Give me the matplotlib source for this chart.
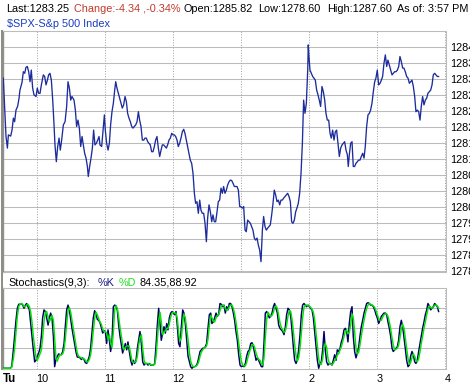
"""
Intraday $SPX chart with 9,3 stochastics panel underneath.
"""
import matplotlib
matplotlib.use("Agg")
import matplotlib.pyplot as plt
from matplotlib.lines import Line2D

plt.rcParams["font.family"] = ["Liberation Sans", "DejaVu Sans"]
FS = 7.8

# price: minutes after 9:30, index level
price_min = [
    0.7, 1.9, 3.1, 4.3, 5.2, 7.2, 8.4, 9.6, 10.7, 11.9, 13.4, 14.6, 15.4, 17.2, 18.4, 19.6,
    20.7, 21.9, 23.1, 24.3, 25.4, 26.6, 27.8, 29.6, 30.7, 31.9, 33.1, 34.3, 36.0, 37.2, 38.4,
    39.6, 40.7, 41.9, 43.1, 44.3, 45.4, 46.3, 47.5, 48.7, 49.9, 51.0, 52.2, 53.7, 55.2, 56.6,
    57.8, 59.0, 60.2, 61.3, 63.1, 64.3, 65.4, 66.6, 67.8, 69.0, 70.2, 71.3, 72.5, 73.7, 74.9,
    75.7, 76.9, 78.1, 79.3, 80.4, 81.6, 82.8, 84.0, 85.2, 86.0, 87.5, 88.7, 89.9, 90.7, 91.9,
    93.1, 94.3, 95.4, 96.6, 97.8, 99.0, 99.9, 101.0, 102.2, 103.4, 104.6, 105.7, 106.9, 108.1,
    109.3, 110.4, 111.6, 112.8, 114.0, 115.1, 116.3, 117.5, 118.7, 119.9, 121.0, 122.2, 123.4,
    124.6, 125.7, 126.9, 128.1, 129.3, 130.4, 131.6, 132.8, 134.0, 135.1, 136.3, 137.5, 138.7,
    139.9, 141.0, 142.2, 143.4, 144.6, 145.7, 146.9, 148.1, 149.3, 150.4, 151.6, 152.8, 154.0,
    155.1, 156.3, 157.5, 158.7, 159.9, 161.0, 162.2, 163.4, 164.6, 165.7, 166.9, 168.1, 169.3,
    170.4, 171.6, 172.8, 174.0, 175.1, 176.3, 177.5, 178.7, 179.9, 181.0, 182.2, 183.4, 184.6,
    185.7, 186.9, 188.1, 189.3, 190.4, 191.6, 192.8, 194.0, 195.1, 196.3, 197.5, 198.7, 199.9,
    201.0, 202.2, 203.4, 204.6, 205.7, 206.9, 208.1, 209.3,
    210.1, 211.6, 212.8, 214.0, 215.1, 216.3, 217.5, 218.7, 219.8, 221.0, 222.2, 223.4, 224.6,
    225.7, 226.9, 228.1, 229.3, 230.4, 231.6, 232.8, 234.0, 235.1, 236.3, 237.5, 238.7, 239.8,
    241.0, 242.2, 243.4, 244.6, 245.7, 246.9, 248.1, 249.3, 250.4, 251.6, 252.8, 254.0, 255.1,
    256.3, 257.5, 258.7, 259.8, 261.0, 262.2, 263.4, 264.6, 265.7, 266.9, 268.1, 269.3, 269.8,
    270.4, 271.3, 272.5, 273.7, 274.8, 276.0, 277.2, 278.4, 279.5, 280.7, 281.9, 283.1, 284.3,
    285.4, 286.6, 287.8, 289.0, 290.1, 291.3, 292.5, 293.7, 294.8, 296.0, 297.2, 298.4, 299.6,
    300.7, 301.9, 303.1, 304.3, 305.1, 306.0, 307.2, 308.4, 309.5, 310.7, 311.9, 313.1, 314.3,
    315.4, 316.6, 317.8, 319.0, 320.1, 321.3, 322.5, 323.7, 324.8, 326.0, 327.2, 328.4, 329.5,
    330.7, 331.9, 333.1, 334.3, 335.4, 336.6, 337.8, 339.0, 340.1, 341.3, 342.5, 343.7, 344.8,
    346.0, 347.2, 348.4, 349.6, 350.7, 351.9, 353.1, 354.2, 355.4, 356.6, 357.8, 359.0, 360.1,
    361.3, 362.5, 363.7, 364.8, 366.0, 367.2, 368.4, 369.5, 370.7, 371.9, 373.1, 374.3, 375.4,
    376.6, 377.8, 379.0, 380.1, 381.3, 382.5, 383.7, 384.8,
]
price = [
    1283.23, 1282.48, 1281.77, 1281.48, 1281.81, 1281.78, 1281.93, 1282.23, 1282.14, 1282.43,
    1282.53, 1282.73, 1282.93, 1283.12, 1283.39, 1283.35, 1283.50, 1283.52, 1283.39, 1283.14,
    1283.43, 1282.98, 1282.81, 1282.77, 1282.98, 1282.85, 1282.85, 1283.06, 1283.31, 1283.27,
    1283.06, 1283.18, 1283.31, 1283.35, 1283.18, 1282.68, 1282.10, 1281.56, 1281.14, 1281.52,
    1281.73, 1281.43, 1281.68, 1282.06, 1282.14, 1282.52, 1283.14, 1282.98, 1282.68, 1282.77,
    1282.68, 1282.43, 1282.02, 1282.18, 1281.98, 1281.52, 1281.77, 1281.56, 1281.35, 1281.23,
    1281.02, 1280.77, 1281.02, 1281.23, 1281.48, 1281.93, 1281.56, 1281.60, 1281.68, 1281.77,
    1281.56, 1281.52, 1281.93, 1282.31, 1281.93, 1281.60, 1281.43, 1281.60, 1282.06, 1282.39,
    1282.60, 1282.93, 1283.14, 1282.98, 1282.85, 1282.73, 1282.60, 1282.48, 1282.56, 1282.77,
    1282.64, 1282.35, 1282.23, 1282.14, 1282.02, 1281.98, 1282.02, 1282.06, 1282.14, 1282.39,
    1282.18, 1282.02, 1281.68, 1281.68, 1281.73, 1281.73, 1281.64, 1281.60, 1281.56, 1281.39,
    1281.39, 1281.52, 1281.68, 1281.77, 1281.48, 1281.27, 1281.43, 1281.56, 1281.56, 1281.52,
    1281.48, 1281.56, 1281.68, 1281.73, 1281.85, 1281.81, 1281.81, 1281.77, 1281.68, 1281.52,
    1281.60, 1281.73, 1281.89, 1281.95, 1281.85, 1281.68, 1281.52, 1281.35, 1281.18, 1281.10,
    1280.85, 1280.35, 1280.10, 1280.14, 1279.85, 1280.18, 1279.93, 1279.85, 1279.85, 1279.60,
    1279.14, 1279.73, 1280.06, 1279.89, 1279.64, 1279.81, 1279.64, 1279.64, 1279.89, 1280.14,
    1280.18, 1280.48, 1280.35, 1280.52, 1280.35, 1280.43, 1280.56, 1280.64, 1280.68, 1280.67,
    1280.60, 1280.52, 1280.52, 1280.52, 1280.43, 1280.02,
    1280.02, 1279.98, 1280.02, 1279.43, 1279.39, 1279.68, 1279.64, 1279.60, 1279.52, 1279.43,
    1279.23, 1279.18, 1279.23, 1279.06, 1278.93, 1278.64, 1279.43, 1279.77, 1279.52, 1279.43,
    1279.48, 1279.52, 1279.56, 1279.81, 1280.10, 1280.43, 1280.31, 1280.14, 1280.18, 1280.06,
    1280.18, 1280.18, 1280.23, 1280.27, 1280.31, 1280.35, 1280.27, 1280.14, 1279.64, 1279.60,
    1279.68, 1279.89, 1279.98, 1280.10, 1280.35, 1280.85, 1281.60, 1282.68, 1282.35, 1282.60,
    1283.43, 1284.06, 1283.77, 1283.43, 1283.35, 1283.27, 1283.23, 1283.18, 1282.93, 1282.81,
    1282.68, 1282.52, 1283.02, 1282.89, 1282.68, 1282.35, 1282.18, 1282.18, 1281.85, 1281.73,
    1281.93, 1281.68, 1281.89, 1281.93, 1281.60, 1281.27, 1281.48, 1281.56, 1281.60, 1281.64,
    1281.43, 1281.31, 1281.02, 1281.31, 1281.60, 1281.64, 1281.02, 1281.02, 1281.10, 1281.14,
    1281.18, 1281.18, 1281.27, 1281.35, 1281.23, 1281.52, 1282.02, 1282.31, 1282.35, 1282.43,
    1282.60, 1282.89, 1283.14, 1283.23, 1283.43, 1283.06, 1283.10, 1283.18, 1283.27, 1283.60,
    1283.81, 1283.52, 1283.68, 1283.56, 1283.43, 1283.31, 1283.35, 1283.39, 1283.39, 1283.43,
    1283.52, 1283.77, 1283.64, 1283.48, 1283.48, 1283.39, 1283.27, 1283.23, 1283.10, 1283.14,
    1283.18, 1283.02, 1282.77, 1282.39, 1282.43, 1282.39, 1282.18, 1282.52, 1282.77, 1282.56,
    1282.68, 1282.73, 1282.85, 1282.89, 1282.93, 1283.06, 1283.31, 1283.35, 1283.31, 1283.27,
    1283.27,
]

# stochastics(9,3): minutes after 9:30, %K and %D
stoch_min = [
    0.7, 6.6, 8.1,
    9.6, 10.7, 11.9, 13.1, 14.3, 15.4, 16.6, 17.8, 19.0, 20.2,
    21.3, 22.5, 23.7, 24.9, 26.0, 27.2, 28.4, 29.6, 30.7, 31.9,
    33.1, 34.3, 35.4, 36.6, 37.8, 39.0, 40.2, 41.3, 42.5, 43.7,
    44.9, 46.0, 47.2, 48.4, 49.6, 50.7, 51.9, 53.1, 54.3, 55.4,
    56.6, 57.8, 59.0, 60.2, 61.3, 62.5, 63.7, 64.9, 66.0, 67.2,
    68.4, 69.6, 70.7, 71.9, 73.1, 74.3, 75.4, 76.6, 77.8, 79.0,
    80.1, 81.3, 82.5, 83.7, 84.9, 86.0, 87.2, 88.4, 89.6, 90.7,
    91.9, 93.1, 94.3, 95.4, 96.6, 97.8, 99.0, 100.1, 101.3, 102.5,
    103.7, 104.9, 106.0, 107.2, 108.4, 109.6, 110.7, 111.9, 113.1, 114.3,
    115.4, 116.6, 117.8, 119.0, 120.1, 121.3, 122.5, 123.7, 124.9, 126.0,
    127.2, 128.4, 129.6, 130.7, 131.9, 133.1, 134.3, 135.4, 136.6, 137.8,
    139.0, 140.1, 141.3, 142.5, 143.7, 144.9, 146.0, 147.2, 148.4, 149.6,
    150.7, 151.9, 153.1, 154.3, 155.4, 156.6, 157.8, 159.0, 160.1, 161.3,
    162.5, 163.7, 164.9, 166.0, 167.2, 168.4, 169.6, 170.7, 171.9, 173.1,
    174.3, 175.4, 176.6, 177.8, 179.0, 180.1, 181.3, 182.5, 183.7, 184.8,
    186.0, 187.2, 188.4, 189.6, 190.7, 191.9, 193.1, 194.3, 195.4, 196.6,
    197.8, 199.0, 200.1, 201.3, 202.5, 203.7, 204.8, 206.0, 207.2, 208.4,
    209.6, 210.7, 211.9, 213.1, 214.3, 215.4, 216.6, 217.8, 219.0, 220.1,
    221.3, 222.5, 223.7, 224.9, 226.0, 227.2, 228.4, 229.6, 230.7, 231.9,
    233.1, 234.3, 235.4, 236.6, 237.8, 239.0, 240.1, 241.3, 242.5, 243.7,
    244.8, 246.0, 247.2, 248.4, 249.6, 250.7, 251.9, 253.1, 254.3, 255.4,
    256.6, 257.8, 259.0, 260.1, 261.3, 262.5, 263.7, 264.8, 266.0, 267.2,
    268.4, 269.6, 270.7, 271.9, 273.1, 274.3, 275.4, 276.6, 277.8, 279.0,
    280.1, 281.3, 282.5, 283.7, 284.8, 286.0, 287.2, 288.4, 289.6, 290.7,
    291.9, 293.1, 294.3, 295.4, 296.6, 297.8, 299.0, 300.1, 301.3, 302.5,
    303.7, 304.8, 306.0, 307.2, 308.4, 309.5, 310.7, 311.9, 313.1, 314.3,
    315.4, 316.6, 317.8, 319.0, 320.1, 321.3, 322.5, 323.7, 324.8, 326.0,
    327.2, 328.4, 329.6, 330.7, 331.9, 333.1, 334.3, 335.4, 336.6, 337.8,
    339.0, 340.1, 341.3, 342.5, 343.7, 344.8, 346.0, 347.2, 348.4, 349.5,
    350.7, 351.9, 353.1, 354.3, 355.4, 356.6, 357.8, 359.0, 360.1, 361.3,
    362.5, 363.7, 364.8, 366.0, 367.2, 368.4, 369.5, 370.7, 371.9, 373.1,
    374.3, 375.4, 376.6, 377.8, 379.0, 380.1, 381.3, 382.5, 383.7, 384.8,
]
pct_k = [
    0, 0, 2,
    23, 40, 60, 75, 80, 80, 81, 79, 75, 79,
    81, 77, 73, 56, 40, 23, 8, 10, 15, 19,
    25, 40, 63, 73, 71, 63, 54, 63, 69, 63,
    40, 2, 11, 15, 18, 17, 17, 21, 31, 52,
    73, 79, 73, 61, 50, 40, 30, 20, 14, 14,
    13, 11, 13, 11, 7, 6, 10, 15, 26, 45,
    63, 72, 68, 61, 60, 57, 51, 44, 47, 46,
    31, 48, 35, 21, 33, 77, 79, 78, 73, 54,
    40, 29, 19, 25, 31, 23, 33, 21, 10, 4,
    10, 6, 10, 25, 35, 46, 31, 8, 4, 6,
    6, 4, 6, 4, 4, 4, 6, 27, 54, 75,
    56, 35, 44, 52, 44, 56, 48, 63, 69, 71,
    69, 67, 71, 52, 31, 27, 52, 73, 69, 56,
    35, 15, 8, 2, 0, 2, 2, 3, 6, 13,
    21, 23, 25, 25, 27, 31, 50, 67, 69, 56,
    58, 63, 69, 65, 67, 81, 80, 77, 79, 69,
    77, 73, 81, 81, 77, 69, 60, 46, 35, 17,
    4, 2, 3, 2, 6, 15, 21, 23, 31, 32,
    27, 19, 10, 13, 10, 6, 2, 2, 31, 69,
    71, 67, 63, 65, 69, 77, 81, 75, 69, 54,
    50, 48, 46, 42, 52, 67, 75, 73, 65, 48,
    27, 10, 6, 10, 23, 42, 67, 79, 81, 79,
    77, 79, 77, 75, 73, 63, 46, 27, 10, 0,
    6, 8, 23, 46, 23, 8, 4, 6, 6, 4,
    10, 17, 10, 23, 21, 25, 33, 38, 48, 50,
    46, 33, 56, 71, 77, 40, 21, 13, 19, 27,
    40, 52, 60, 69, 75, 81, 82, 81, 79, 79,
    77, 73, 67, 63, 56, 60, 65, 67, 69, 69,
    67, 58, 50, 40, 25, 21, 23, 25, 27, 35,
    52, 60, 52, 38, 25, 10, 2, 4, 15, 21,
    17, 8, 6, 10, 21, 31, 40, 50, 58, 67,
    73, 81, 78, 73, 75, 77, 81, 79, 77, 71,
]
pct_d = [
    0, 0, 1,
    12, 25, 45, 65, 77, 80, 81, 80, 77, 77,
    79, 80, 77, 70, 58, 40, 26, 13, 10, 14,
    18, 23, 38, 58, 70, 71, 64, 58, 62, 66,
    60, 38, 12, 9, 14, 17, 17, 18, 23, 36,
    55, 72, 76, 70, 60, 49, 39, 28, 19, 15,
    14, 13, 12, 12, 10, 8, 8, 11, 17, 30,
    47, 62, 70, 67, 62, 58, 55, 49, 46, 46,
    44, 36, 42, 32, 26, 45, 74, 78, 75, 64,
    51, 40, 30, 23, 26, 28, 28, 27, 18, 9,
    7, 8, 8, 15, 28, 38, 42, 25, 10, 6,
    6, 6, 5, 5, 4, 4, 5, 13, 35, 58,
    70, 58, 42, 45, 47, 50, 50, 56, 64, 69,
    70, 69, 69, 62, 45, 34, 38, 57, 68, 63,
    50, 36, 20, 9, 4, 2, 2, 3, 4, 8,
    15, 20, 23, 25, 26, 28, 36, 53, 66, 63,
    59, 58, 63, 66, 67, 72, 78, 79, 78, 75,
    72, 74, 77, 79, 79, 75, 68, 58, 45, 31,
    19, 9, 4, 3, 3, 7, 14, 20, 25, 29,
    30, 26, 19, 14, 11, 10, 6, 4, 12, 38,
    61, 70, 67, 65, 66, 70, 76, 78, 75, 66,
    57, 51, 48, 45, 47, 54, 65, 72, 71, 62,
    47, 30, 16, 9, 13, 25, 44, 63, 76, 79,
    79, 78, 78, 76, 74, 70, 61, 45, 28, 12,
    5, 5, 12, 26, 31, 26, 12, 6, 5, 5,
    6, 10, 12, 17, 18, 23, 27, 33, 40, 46,
    48, 43, 45, 54, 68, 63, 46, 25, 18, 20,
    29, 40, 51, 60, 68, 75, 79, 81, 80, 79,
    78, 76, 72, 67, 62, 60, 60, 64, 67, 68,
    68, 65, 58, 49, 38, 29, 23, 24, 25, 29,
    38, 49, 55, 50, 38, 24, 12, 5, 7, 13,
    18, 15, 10, 8, 12, 21, 31, 40, 50, 58,
    67, 74, 78, 76, 75, 76, 79, 79, 78, 75,
]
assert len(price_min) == len(price)
assert len(stoch_min) == len(pct_k) == len(pct_d)

price_ticks = [1278.4, 1278.8, 1279.2, 1279.6, 1280.0, 1280.4, 1280.8, 1281.2,
               1281.6, 1282.0, 1282.4, 1282.8, 1283.2, 1283.6, 1284.0]
hour_min = [30, 90, 150, 210, 270, 330, 390]
hour_labels = ["10", "11", "12", "1", "2", "3", "4"]

W, H = 470, 389
GRID = "#bcbcbc"
VGRID = "#a8a8a8"
LINE = "#1c2c9c"


def fx(px):
    return px / W


def fy(py):
    return 1 - py / H


fig = plt.figure(figsize=(W / 100, H / 100), dpi=100, facecolor="white")
ax = fig.add_axes([fx(3), fy(272), fx(443), (272 - 31) / H])
ax_st = fig.add_axes([fx(3), fy(369), fx(443), (369 - 288.3) / H])

xlim = ((3 - 2.5) * 60 / 68, (446 - 2.5) * 60 / 68)

# price panel
ax.plot(price_min, price, color=LINE, lw=0.95, zorder=3)
ax.set_xlim(*xlim)
ax.set_ylim(1284 - (272 - 47.3) * 0.025, 1284 + (47.3 - 31) * 0.025)
ax.set_yticks(price_ticks)
ax.set_yticklabels([f"{v:.1f}" for v in price_ticks])
ax.yaxis.tick_right()
ax.tick_params(axis="y", length=0, pad=3, labelsize=FS, colors="black")
ax.set_xticks([])
ax.grid(axis="y", color=GRID, lw=0.75)

# stochastics panel
ax_st.plot(stoch_min, pct_k, color="#000066", lw=1.05, zorder=3)
ax_st.plot(stoch_min, pct_d, color="#00e600", lw=1.05, zorder=4)
ax_st.set_xlim(*xlim)
ax_st.set_ylim(-0.9, 100)
ax_st.set_yticks([25, 50, 75])
ax_st.tick_params(axis="y", length=0, labelright=False, labelleft=False)
ax_st.grid(axis="y", color=GRID, lw=0.75)
ax_st.set_xticks(hour_min)
ax_st.set_xticklabels(hour_labels)
ax_st.tick_params(axis="x", length=0, pad=3.5, labelsize=FS)
for lbl in ax_st.get_xticklabels():
    lbl.set_ha("left")

for a in (ax, ax_st):
    a.set_facecolor("white")
    for m in hour_min:
        a.axvline(m, color=VGRID, lw=0.75, ls=(0, (1, 1.5)), zorder=1)
    for side in ("top", "right", "bottom"):
        a.spines[side].set_color(GRID)
        a.spines[side].set_linewidth(0.75)
    a.spines["left"].set_color("#909090")
    a.spines["left"].set_linewidth(1.0)
    a.set_axisbelow(True)

fig.add_artist(Line2D([fx(1.5), fx(1.5)], [fy(31), fy(369)], color="#8c8c84",
                      lw=1.4, transform=fig.transFigure))

# header texts
hdr = [
    (6, "Last:1283.25", "black"),
    (74, "Change:-4.34 ,-0.34%", "#c0392b"),
    (184, "Open:1285.82", "black"),
    (258, "Low:1278.60", "black"),
    (327, "High:1287.60", "black"),
    (397, "As of: 3:57 PM", "black"),
]
for x, s, c in hdr:
    fig.text(fx(x), fy(9), s, color=c, fontsize=FS, ha="left", va="center")
fig.text(fx(7), fy(24), "$SPX-S&p 500 Index", color="#1a3cc0", fontsize=FS,
         ha="left", va="center", parse_math=False)

st_lbl = [
    (8, "Stochastics(9,3):", "black"),
    (98, "%K", "#1a1a80"),
    (119, "%D", "#22dd22"),
    (139, "84.35,88.92", "black"),
]
for x, s, c in st_lbl:
    fig.text(fx(x), fy(282.5), s, color=c, fontsize=FS, ha="left", va="center")

fig.text(fx(3), fy(379), "Tu", fontsize=FS + 0.5, weight="bold", ha="left", va="center")

fig.savefig("out.png", dpi=100)
